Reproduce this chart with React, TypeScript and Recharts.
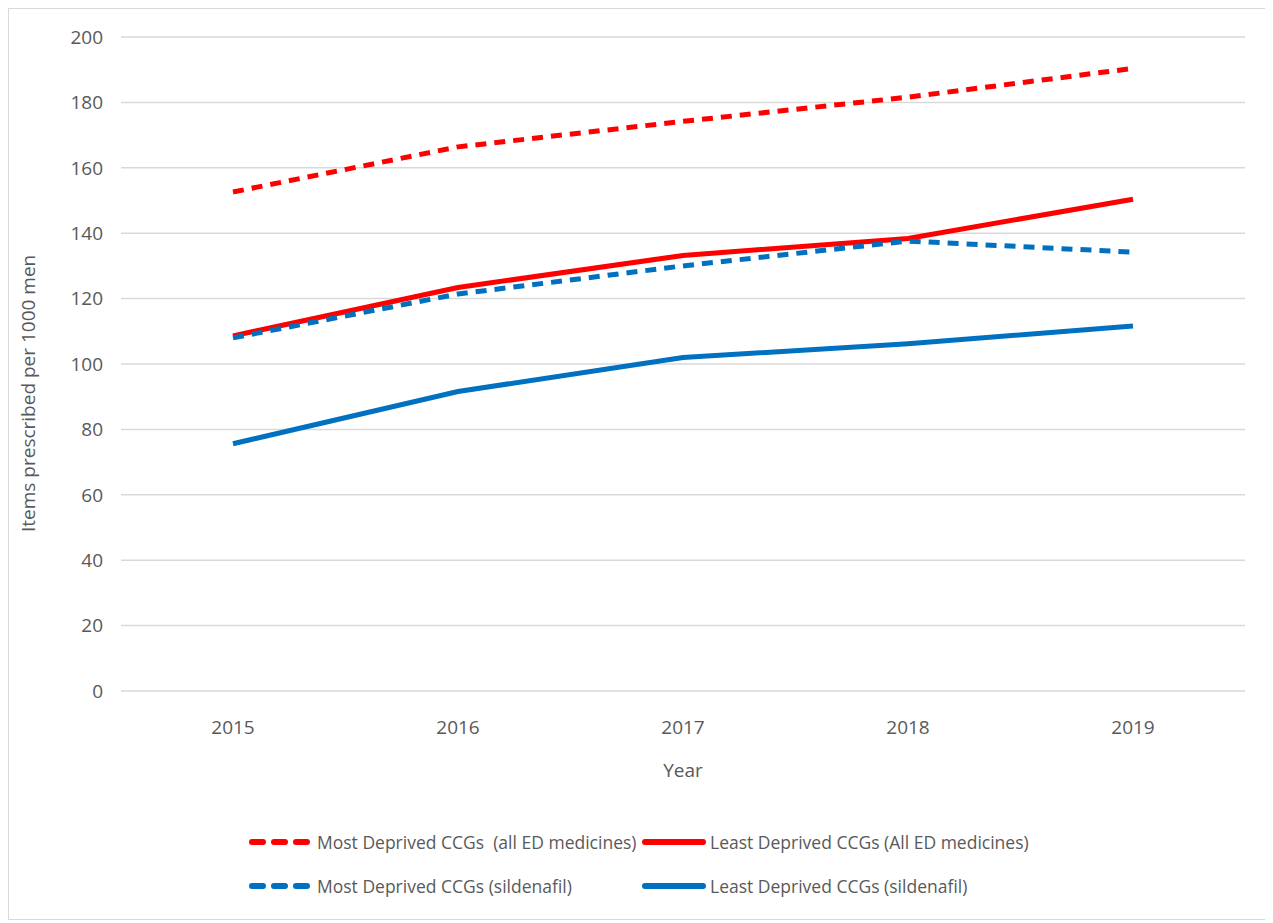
import React from 'react';
import { LineChart, Line, XAxis, YAxis, CartesianGrid, Legend } from 'recharts';

const years = ['2015', '2016', '2017', '2018', '2019'];
const mostDeprivedAll = [152.6, 166.4, 174.2, 181.6, 190.4];
const leastDeprivedAll = [108.6, 123.4, 133.2, 138.4, 150.4];
const mostDeprivedSil = [108.0, 121.4, 130.0, 137.6, 134.2];
const leastDeprivedSil = [75.6, 91.6, 102.0, 106.2, 111.6];
const yTicks = [0, 20, 40, 60, 80, 100, 120, 140, 160, 180, 200];

const seriesNames = [
  'Most Deprived CCGs  (all ED medicines)',
  'Least Deprived CCGs (All ED medicines)',
  'Most Deprived CCGs (sildenafil)',
  'Least Deprived CCGs (sildenafil)',
];

const RED = '#FF0000';
const BLUE = '#0070C0';
const TEXT = '#595959';
const FONT = '"Open Sans", sans-serif';

const data = years.map((y, i) => ({
  year: y,
  mda: mostDeprivedAll[i],
  lda: leastDeprivedAll[i],
  mds: mostDeprivedSil[i],
  lds: leastDeprivedSil[i],
}));

const legendItems = [
  { name: seriesNames[0], color: RED, dashed: true },
  { name: seriesNames[1], color: RED, dashed: false },
  { name: seriesNames[2], color: BLUE, dashed: true },
  { name: seriesNames[3], color: BLUE, dashed: false },
];

const LegendContent = () => (
  <div style={{ position: 'relative', width: '100%', height: 100, fontFamily: FONT, fontSize: 17.5, color: TEXT }}>
    {legendItems.map((it, i) => {
      const col = i % 2;
      const row = Math.floor(i / 2);
      const left = col === 0 ? 240 : 633;
      const top = row === 0 ? 21 : 65;
      return (
        <div key={i} style={{ position: 'absolute', left, top, display: 'flex', alignItems: 'center', whiteSpace: 'pre', height: 40 }}>
          <svg width={64} height={10} style={{ marginRight: 4 }}>
            <line x1={3} y1={5} x2={61} y2={5} stroke={it.color} strokeWidth={6} strokeLinecap="round"
              strokeDasharray={it.dashed ? '11 11' : undefined} />
          </svg>
          <span>{it.name}</span>
        </div>
      );
    })}
  </div>
);

export default function App() {
  return (
    <div style={{ width: 1262, height: 910, border: '1px solid #d9d9d9', background: '#fff', position: 'relative' }}>
      <LineChart width={1262} height={910} data={data} margin={{ top: 28, right: 26, left: 0, bottom: 18 }}>
        <CartesianGrid vertical={false} stroke="#d9d9d9" strokeWidth={1.5} />
        <XAxis
          dataKey="year"
          axisLine={false}
          tickLine={false}
          height={110}
          padding={{ left: 112, right: 112 }}
          tick={{ fill: TEXT, fontSize: 19, fontFamily: FONT }}
          dy={22}
          label={{ value: 'Year', position: 'insideTop', dy: 68, fill: TEXT, fontSize: 19, fontFamily: FONT }}
        />
        <YAxis
          domain={[0, 200]}
          ticks={yTicks}
          axisLine={false}
          tickLine={false}
          width={112}
          tick={{ fill: TEXT, fontSize: 19, fontFamily: FONT }}
          dx={-10}
          label={{ value: 'Items prescribed per 1000 men', angle: -90, position: 'insideLeft', dx: 14, dy: 168, fill: TEXT, fontSize: 19, fontFamily: FONT }}
        />
        <Legend verticalAlign="bottom" height={100} content={<LegendContent />} />
        <Line dataKey="mda" name={seriesNames[0]} stroke={RED} strokeWidth={5} strokeDasharray="11 8" dot={false} isAnimationActive={false} />
        <Line dataKey="lda" name={seriesNames[1]} stroke={RED} strokeWidth={5} dot={false} isAnimationActive={false} />
        <Line dataKey="mds" name={seriesNames[2]} stroke={BLUE} strokeWidth={5} strokeDasharray="11 8" dot={false} isAnimationActive={false} />
        <Line dataKey="lds" name={seriesNames[3]} stroke={BLUE} strokeWidth={5} dot={false} isAnimationActive={false} />
      </LineChart>
    </div>
  );
}
